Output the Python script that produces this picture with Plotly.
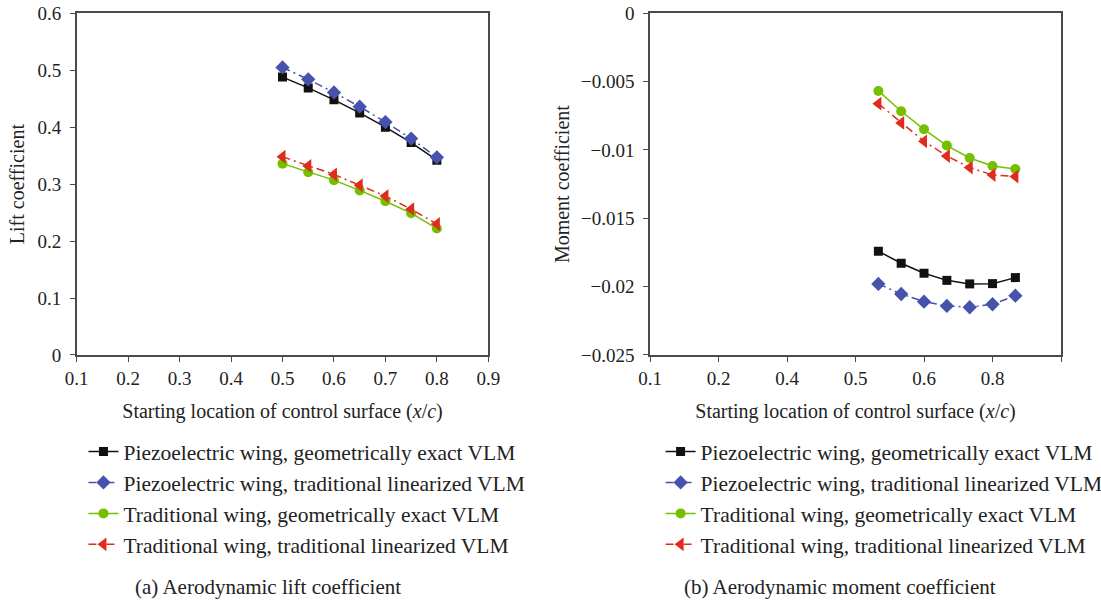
import plotly.graph_objects as go

# Starting location of the control surface (x/c)
x_loc = [0.50, 0.55, 0.60, 0.65, 0.70, 0.75, 0.80]

# Lift coefficient
lift_piezo_exact = [0.488, 0.469, 0.448, 0.425, 0.400, 0.373, 0.342]
lift_piezo_linear = [0.505, 0.484, 0.461, 0.436, 0.409, 0.380, 0.347]
lift_trad_exact = [0.336, 0.321, 0.307, 0.289, 0.270, 0.249, 0.222]
lift_trad_linear = [0.348, 0.332, 0.317, 0.298, 0.279, 0.256, 0.230]

# Moment coefficient
mom_piezo_exact = [-0.01741, -0.01829, -0.01902, -0.01954, -0.01980, -0.01978, -0.01934]
mom_piezo_linear = [-0.01980, -0.02054, -0.02110, -0.02141, -0.02151, -0.02129, -0.02066]
mom_trad_exact = [-0.00568, -0.00717, -0.00849, -0.00968, -0.01059, -0.01117, -0.01139]
mom_trad_linear = [-0.00661, -0.00802, -0.00937, -0.01044, -0.01129, -0.01183, -0.01195]

series_names = [
    "Piezoelectric wing, geometrically exact VLM",
    "Piezoelectric wing, traditional linearized VLM",
    "Traditional wing, geometrically exact VLM",
    "Traditional wing, traditional linearized VLM",
]

# Tick labels
lift_xticks = [0.1, 0.2, 0.3, 0.4, 0.5, 0.6, 0.7, 0.8, 0.9]
lift_xtick_text = ["0.1", "0.2", "0.3", "0.4", "0.5", "0.6", "0.7", "0.8", "0.9"]
lift_yticks = [0, 0.1, 0.2, 0.3, 0.4, 0.5, 0.6]
lift_ytick_text = ["0", "0.1", "0.2", "0.3", "0.4", "0.5", "0.6"]
mom_xticks = [0.0, 0.15, 0.30, 0.45, 0.60, 0.75, 0.90]
mom_xtick_text = ["0.1", "0.2", "0.4", "0.5", "0.6", "0.8", ""]
mom_yticks = [0, -0.005, -0.01, -0.015, -0.02, -0.025]
mom_ytick_text = ["0", "\u22120.005", "\u22120.01", "\u22120.015", "\u22120.02", "\u22120.025"]

captions = ["(a) Aerodynamic lift coefficient", "(b) Aerodynamic moment coefficient"]

FONT = "Liberation Serif"
TEXT = "#222222"
BLACK = "#111111"
BLUE = "#4652AC"
GREEN = "#74C000"
RED = "#E02C1C"
AXIS = "#4a4a4a"

styles = [
    dict(color=BLACK, dash="solid", symbol="square", size=9),
    dict(color=BLUE, dash="8px,4px,2px,4px", symbol="diamond", size=11),
    dict(color=GREEN, dash="solid", symbol="circle", size=10),
    dict(color=RED, dash="8px,4px,2px,4px", symbol="triangle-left", size=12),
]

fig = go.Figure()

panels = [
    ("x", "y", "legend", [lift_piezo_exact, lift_piezo_linear, lift_trad_exact, lift_trad_linear]),
    ("x2", "y2", "legend2", [mom_piezo_exact, mom_piezo_linear, mom_trad_exact, mom_trad_linear]),
]
for xa, ya, leg, data in panels:
    for name, vals, st in zip(series_names, data, styles):
        fig.add_trace(go.Scatter(
            x=x_loc, y=vals, name=name, mode="lines+markers",
            xaxis=xa, yaxis=ya, legend=leg,
            line=dict(color=st["color"], dash=st["dash"], width=1.5),
            marker=dict(color=st["color"], symbol=st["symbol"], size=st["size"]),
        ))

axis_common = dict(
    showgrid=False, zeroline=False, showline=True, linecolor=AXIS, linewidth=1.5,
    mirror=True, ticks="outside", ticklen=5, tickcolor=AXIS, tickwidth=1.2,
    tickfont=dict(family=FONT, size=19, color=TEXT), automargin=False,
)
xtitle = "Starting location of control surface (<i>x</i>/<i>c</i>)"
title_font = dict(family=FONT, size=20, color=TEXT)
legend_font = dict(family=FONT, size=21.5, color=TEXT)
caption_font = dict(family=FONT, size=21, color=TEXT)

fig.update_layout(
    width=1101, height=604,
    margin=dict(l=0, r=0, t=0, b=0, autoexpand=False),
    plot_bgcolor="white", paper_bgcolor="white",
    xaxis=dict(axis_common, domain=[0.0697, 0.4435], range=[0.1, 0.9],
               tickvals=lift_xticks, ticktext=lift_xtick_text,
               title=dict(text=xtitle, font=title_font, standoff=16)),
    yaxis=dict(axis_common, domain=[0.4123, 0.978], range=[0, 0.6],
               tickvals=lift_yticks, ticktext=lift_ytick_text, ticklabelstandoff=5,
               title=dict(text="Lift coefficient", font=title_font, standoff=7)),
    xaxis2=dict(axis_common, domain=[0.5904, 0.9637], range=[0.0, 0.9], anchor="y2",
                tickvals=mom_xticks, ticktext=mom_xtick_text,
                title=dict(text=xtitle, font=title_font, standoff=16)),
    yaxis2=dict(axis_common, domain=[0.4123, 0.978], range=[-0.025, 0], anchor="x2",
                tickvals=mom_yticks, ticktext=mom_ytick_text, ticklabelstandoff=5,
                title=dict(text="Moment coefficient", font=title_font, standoff=6)),
    legend=dict(x=0.0758, y=0.2864, xanchor="left", yanchor="top", font=legend_font,
                tracegroupgap=0, itemwidth=30, bgcolor="rgba(0,0,0,0)"),
    legend2=dict(x=0.600, y=0.2864, xanchor="left", yanchor="top", font=legend_font,
                 tracegroupgap=0, itemwidth=30, bgcolor="rgba(0,0,0,0)"),
    annotations=[
        dict(text=captions[0], x=0.243, y=1 - 587 / 604, xref="paper", yref="paper",
             xanchor="center", yanchor="middle", showarrow=False, font=caption_font),
        dict(text=captions[1], x=0.763, y=1 - 587 / 604, xref="paper", yref="paper",
             xanchor="center", yanchor="middle", showarrow=False, font=caption_font),
    ],
)

fig.write_html("out.html")
